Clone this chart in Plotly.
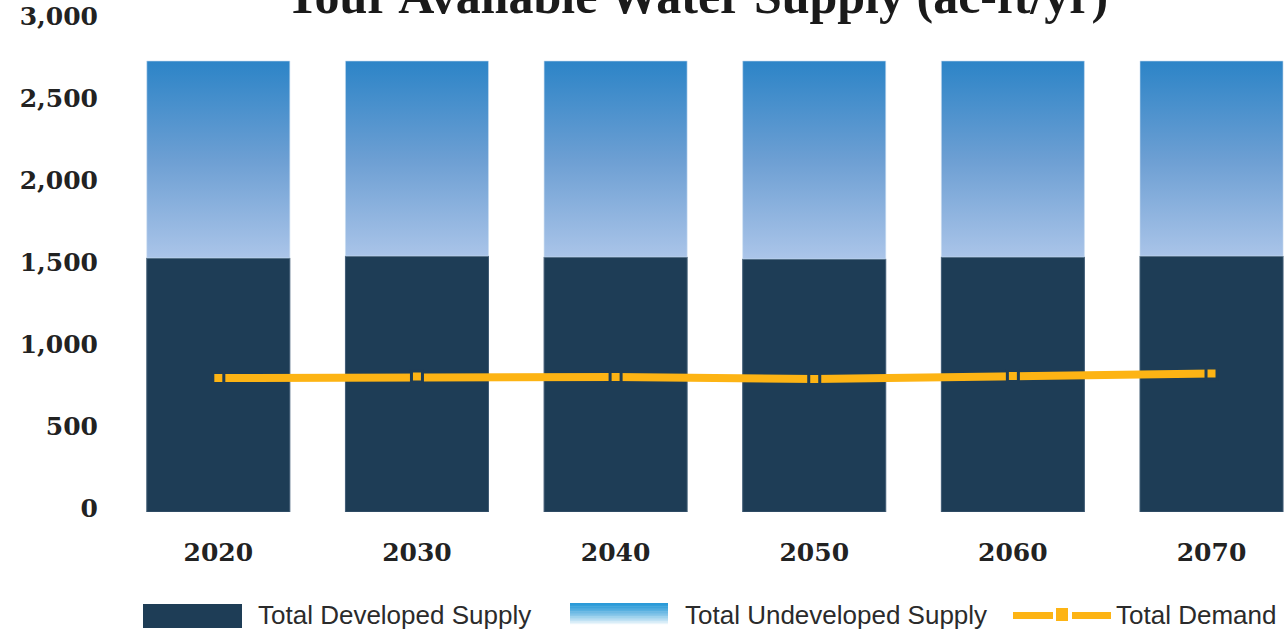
import plotly.graph_objects as go

# ---------------- data ----------------
years = ["2020", "2030", "2040", "2050", "2060", "2070"]
developed_supply = [1549, 1561, 1555, 1543, 1555, 1561]
undeveloped_supply = [1201, 1189, 1195, 1207, 1195, 1189]
total_demand = [817, 826, 823, 811, 829, 845]
y_ticks = [0, 500, 1000, 1500, 2000, 2500, 3000]

TITLE = "Your Available Water Supply (ac-ft/yr)"
NAVY = "#1e3d56"
GOLD = "#fdb414"

W, H = 1287, 631
ML, MR, MT, MB = 119, 0, 20, 119
BAR_W = 0.72

idx = list(range(len(years)))

fig = go.Figure()

# developed supply (solid bars)
fig.add_trace(go.Bar(
    x=idx, y=developed_supply, width=BAR_W,
    marker=dict(color=NAVY, line=dict(width=1, color="#3f5a73")),
    name="Total Developed Supply", hoverinfo="skip",
))

# undeveloped supply stacked on top, drawn as gradient-filled boxes
ux, uy = [], []
for i, d, u in zip(idx, developed_supply, undeveloped_supply):
    hw = BAR_W / 2
    ux += [i - hw, i + hw, i + hw, i - hw, i - hw, None]
    uy += [d, d, d + u, d + u, d, None]
fig.add_trace(go.Scatter(
    x=ux, y=uy, mode="lines", fill="toself",
    line=dict(width=1, color="rgba(200,220,240,0.6)"),
    fillgradient=dict(type="vertical",
                      colorscale=[[0, "#abc5e9"], [0.5, "#6d9fd3"], [1, "#2c84c7"]]),
    name="Total Undeveloped Supply", hoverinfo="skip",
))

# demand line
fig.add_trace(go.Scatter(
    x=idx, y=total_demand, mode="lines+markers",
    line=dict(color=GOLD, width=8),
    marker=dict(symbol="square", size=11, color=GOLD, line=dict(color=NAVY, width=3)),
    name="Total Demand", hoverinfo="skip",
))

pw = W - ML - MR
ph = H - MT - MB


def px2x(px):
    return (px - ML) / pw


def py2y(py):
    return (H - MB - py) / ph


shapes = []
# legend: developed
shapes.append(dict(type="rect", xref="paper", yref="paper",
                   x0=px2x(143), x1=px2x(242), y0=py2y(628), y1=py2y(604),
                   fillcolor=NAVY, line=dict(width=0)))
# legend: undeveloped gradient (strips)
n = 14
top_c = (0x2a, 0x9a, 0xd8)
bot_c = (0xff, 0xff, 0xff)
y_top, y_bot = 603, 626
for k in range(n):
    t = k / (n - 1)
    c = tuple(int(round(top_c[j] + (bot_c[j] - top_c[j]) * t ** 1.3)) for j in range(3))
    a = y_top + (y_bot - y_top) * k / n
    b = y_top + (y_bot - y_top) * (k + 1) / n
    shapes.append(dict(type="rect", xref="paper", yref="paper",
                       x0=px2x(570), x1=px2x(668), y0=py2y(b + 0.5), y1=py2y(a),
                       fillcolor="rgb(%d,%d,%d)" % c, line=dict(width=0)))
# legend: demand
shapes.append(dict(type="rect", xref="paper", yref="paper",
                   x0=px2x(1013), x1=px2x(1053), y0=py2y(619), y1=py2y(612),
                   fillcolor=GOLD, line=dict(width=0)))
shapes.append(dict(type="rect", xref="paper", yref="paper",
                   x0=px2x(1056), x1=px2x(1068), y0=py2y(621), y1=py2y(608),
                   fillcolor=GOLD, line=dict(width=0)))
shapes.append(dict(type="rect", xref="paper", yref="paper",
                   x0=px2x(1072), x1=px2x(1111), y0=py2y(619), y1=py2y(612),
                   fillcolor=GOLD, line=dict(width=0)))

leg_font = dict(family="Liberation Sans", size=26, color="#2b2b2b")
annotations = []
for label, xpx in [("Total Developed Supply", 256),
                   ("Total Undeveloped Supply", 683),
                   ("Total Demand", 1114)]:
    annotations.append(dict(text=label, xref="paper", yref="paper",
                            x=px2x(xpx), y=py2y(615), xanchor="left", yanchor="middle",
                            showarrow=False, font=leg_font))

fig.update_layout(
    width=W, height=H,
    margin=dict(l=ML, r=MR, t=MT, b=MB),
    paper_bgcolor="white", plot_bgcolor="white",
    showlegend=False,
    barmode="overlay",
    title=dict(text=TITLE, xref="container", yref="container",
               x=696 / W, xanchor="center", y=1 - 13 / H, yanchor="bottom",
               font=dict(family="Liberation Serif", size=50, color="#1a1a1a", weight="bold")),
    xaxis=dict(range=[-0.5, 5.38], tickvals=idx, ticktext=years,
               showgrid=False, zeroline=False, showline=False, ticks="",
               ticklabelstandoff=23,
               tickfont=dict(family="DejaVu Serif", size=25, color="#222", weight="bold")),
    yaxis=dict(range=[0, 3000], tickvals=y_ticks, tickformat=",",
               showgrid=False, zeroline=False, showline=False, ticks="",
               ticklabelstandoff=20, ticklabelshift=-4,
               tickfont=dict(family="DejaVu Serif", size=25, color="#222", weight="bold")),
    shapes=shapes,
    annotations=annotations,
)

fig.write_html("out.html", config={"displayModeBar": False},
               post_script="document.body.style.margin='0';")
